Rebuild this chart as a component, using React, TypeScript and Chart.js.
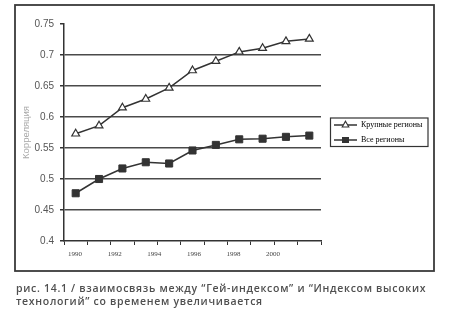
import React, { useEffect, useRef } from "react";
import { Chart, registerables } from "chart.js";

Chart.register(...registerables);

// ---- data ----
const years = ["1990", "1991", "1992", "1993", "1994", "1995", "1996", "1997", "1998", "1999", "2000"];
const largeRegions = [0.573, 0.586, 0.615, 0.629, 0.647, 0.675, 0.69, 0.705, 0.711, 0.722, 0.726];
const allRegions = [0.477, 0.5, 0.517, 0.527, 0.525, 0.546, 0.555, 0.564, 0.565, 0.568, 0.57];
const yearTickLabels = [1990, 1992, 1994, 1996, 1998, 2000];
const seriesNames = ["Крупные регионы", "Все регионы"];
const yAxisTitle = "Корреляция";
const captionLines = [
  "рис. 14.1 / взаимосвязь между “Гей-индексом” и “Индексом высоких",
  "технологий” со временем увеличивается",
];

const INK = "#333";

function legendSymbol(kind: "triangle" | "square"): HTMLCanvasElement {
  const c = document.createElement("canvas");
  c.width = 29;
  c.height = 10;
  const g = c.getContext("2d")!;
  g.strokeStyle = INK;
  g.lineWidth = 1.5;
  g.beginPath();
  g.moveTo(6, 5);
  g.lineTo(29, 5);
  g.stroke();
  const cx = 17.5;
  const cy = 5;
  if (kind === "triangle") {
    g.beginPath();
    g.moveTo(cx, cy - 3.8);
    g.lineTo(cx + 3.3, cy + 2);
    g.lineTo(cx - 3.3, cy + 2);
    g.closePath();
    g.fillStyle = "#fff";
    g.fill();
    g.lineWidth = 1.1;
    g.stroke();
  } else {
    g.fillStyle = INK;
    g.fillRect(cx - 3.5, cy - 3, 7, 6);
  }
  return c;
}

const frameAndLegendBorder = {
  id: "frameAndLegendBorder",
  beforeDraw(chart: any) {
    const ctx = chart.ctx;
    ctx.save();
    ctx.fillStyle = "#fff";
    ctx.fillRect(0, 0, chart.width, chart.height);
    // outer frame of the figure, placed just outside the plot area
    const ca = chart.chartArea;
    const left = ca.left - 49;
    const top = ca.top - 19;
    const right = chart.legend ? chart.legend.right + 2 : ca.right + 113;
    const bottom = ca.bottom + 30;
    ctx.strokeStyle = "#3a3a3a";
    ctx.lineWidth = 1.8;
    ctx.strokeRect(left, top, right - left, bottom - top);
    ctx.restore();
  },
  afterDraw(chart: any) {
    const lg = chart.legend;
    if (!lg || !lg.legendHitBoxes || !lg.legendHitBoxes.length) return;
    const hb = lg.legendHitBoxes;
    const ctx = chart.ctx;
    const x0 = hb[0].left + 2.5;
    const y0 = hb[0].top - 3;
    const x1 = lg.right - 4;
    const last = hb[hb.length - 1];
    const y1 = last.top + last.height + 2.5;
    ctx.save();
    ctx.strokeStyle = INK;
    ctx.lineWidth = 1.2;
    ctx.strokeRect(x0, y0, x1 - x0, y1 - y0);
    ctx.restore();
  },
};

export default function App() {
  const ref = useRef<HTMLCanvasElement | null>(null);

  useEffect(() => {
    if (!ref.current) return;
    const symbols = [legendSymbol("triangle"), legendSymbol("square")];
    const chart = new Chart(ref.current, {
      type: "line",
      data: {
        labels: years,
        datasets: [
          {
            label: seriesNames[0],
            data: largeRegions,
            borderColor: INK,
            borderWidth: 1.5,
            pointStyle: "triangle",
            pointRadius: 4.5,
            pointBorderWidth: 1.2,
            pointBackgroundColor: "#fff",
            pointBorderColor: INK,
            xAxisID: "x",
            yAxisID: "y",
          },
          {
            label: seriesNames[1],
            data: allRegions,
            borderColor: INK,
            borderWidth: 1.5,
            pointStyle: "rect",
            pointRadius: 5,
            pointBorderWidth: 1,
            pointBackgroundColor: INK,
            pointBorderColor: INK,
            xAxisID: "x",
            yAxisID: "y",
          },
        ],
      },
      options: {
        responsive: false,
        animation: false,
        layout: { padding: { left: 15, right: 17, top: 24, bottom: 57 } },
        plugins: {
          tooltip: { enabled: false },
          legend: {
            position: "right",
            fullSize: false,
            maxWidth: 111,
            labels: {
              usePointStyle: true,
              pointStyleWidth: 29,
              padding: 7,
              color: "#444",
              font: { family: "'Liberation Serif', serif", size: 8 },
              generateLabels: () =>
                seriesNames.map((name, i) => ({
                  text: name + "   ",
                  pointStyle: symbols[i] as any,
                  datasetIndex: i,
                  hidden: false,
                  fillStyle: "transparent",
                  strokeStyle: "transparent",
                  lineWidth: 0,
                })),
            },
          },
        },
        scales: {
          x: {
            type: "category",
            position: "bottom",
            weight: 0,
            offset: true,
            ticks: { display: false },
            grid: {
              display: true,
              offset: true,
              drawOnChartArea: false,
              drawTicks: true,
              tickLength: 4,
              tickColor: INK,
              lineWidth: 1,
            },
            border: { display: true, color: INK, width: 1.5 },
            afterFit: (s: any) => {
              s.height = 4;
            },
          },
          x2: {
            type: "linear",
            position: "bottom",
            weight: 1,
            min: 1989.44,
            max: 2002.42,
            grid: { display: false, drawTicks: false },
            border: { display: false },
            ticks: {
              stepSize: 2,
              includeBounds: false,
              padding: 5,
              maxRotation: 0,
              autoSkip: false,
              color: "#444",
              font: { family: "'Liberation Serif', serif", size: 7 },
              callback: (v: any) => String(v),
            },
            afterBuildTicks: (s: any) => {
              s.ticks = yearTickLabels.map((v) => ({ value: v }));
            },
            afterFit: (s: any) => {
              s.height = 24;
            },
          },
          y: {
            type: "linear",
            position: "left",
            min: 0.4,
            max: 0.75,
            ticks: {
              stepSize: 0.05,
              padding: 6,
              color: "#555",
              font: { family: "'Liberation Sans', Arial, sans-serif", size: 10 },
              callback: (v: any) => String(Number(Number(v).toFixed(2))),
            },
            grid: {
              drawTicks: true,
              tickLength: 4,
              tickColor: INK,
              lineWidth: 1.5,
              color: (c: any) => {
                const v = c.tick ? c.tick.value : 0;
                return v > 0.745 || v < 0.405 ? "rgba(0,0,0,0)" : "#4a4a4a";
              },
            },
            border: { display: true, color: INK, width: 1.5 },
            title: {
              display: true,
              text: yAxisTitle,
              color: "#a8a8a8",
              padding: { top: 6, bottom: 0 },
              font: { family: "'Liberation Sans', Arial, sans-serif", size: 9.5 },
            },
            afterFit: (s: any) => {
              s.width = 49;
            },
          },
        },
      },
      plugins: [frameAndLegendBorder],
    });
    return () => chart.destroy();
  }, []);

  return (
    <div>
      <canvas
        ref={ref}
        width={449}
        height={326}
        style={{ position: "absolute", left: 0, top: 0, width: 449, height: 326, display: "block" }}
      />
      <div
        style={{
          position: "absolute",
          left: 16,
          top: 282,
          whiteSpace: "nowrap",
          fontFamily: "'Open Sans', 'DejaVu Sans', sans-serif",
          fontSize: 10.5,
          fontWeight: 600,
          letterSpacing: "0.7px",
          lineHeight: "12.5px",
          color: "#4f4f4f",
        }}
      >
        {captionLines.map((l, i) => (
          <div key={i}>{l}</div>
        ))}
      </div>
    </div>
  );
}
